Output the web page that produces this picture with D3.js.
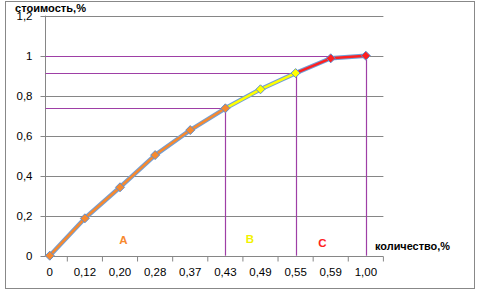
<!DOCTYPE html>
<html><head><meta charset="utf-8">
<script src="https://cdn.jsdelivr.net/npm/d3@7"></script>
<style>body{margin:0;background:#fff}svg{display:block}text{font-family:"Liberation Sans",Arial,sans-serif}</style>
</head><body><svg id="c" width="479" height="294"></svg>
<script>
const categories = ["0","0,12","0,20","0,28","0,37","0,43","0,49","0,55","0,59","1,00"];
const values = [0, 0.187, 0.342, 0.503, 0.628, 0.737, 0.832, 0.913, 0.987, 1.0];
const yTicks = [0, 0.2, 0.4, 0.6, 0.8, 1.0, 1.2];
const yTickLabels = ["0","0,2","0,4","0,6","0,8","1","1,2"];
const segA = [0,1,2,3,4,5];
const segB = [5,6,7];
const segC = [7,8,9];
const guideIdx = [5,7,9];
const zoneLabels = ["A","B","C"];
const zoneColors = ["#f7892f","#ffff00","#ff2020"];

const svg = d3.select("#c");
svg.append("rect").attr("x",5.5).attr("y",1.5).attr("width",469).attr("height",287)
  .attr("fill","#fff").attr("stroke","#888").attr("stroke-width",1);

const x = d3.scaleBand().domain(categories).range([32.2, 383.4]).padding(0);
const cx = c => x(c) + x.bandwidth()/2;
const y = d3.scaleLinear().domain([0,1.2]).range([255.7, 15.7]);
const axX = 45.5, axR = 383.4;

// gridlines
svg.append("g").selectAll("line").data(yTicks.slice(1)).join("line")
  .attr("x1",axX).attr("x2",axR).attr("y1",d=>Math.round(y(d))+0.5).attr("y2",d=>Math.round(y(d))+0.5)
  .attr("stroke","#868686").attr("stroke-width",1);

// y axis
svg.append("line").attr("x1",axX).attr("x2",axX).attr("y1",y(1.2)).attr("y2",y(0)).attr("stroke","#868686");
svg.append("g").selectAll("line").data(yTicks).join("line")
  .attr("x1",axX-5).attr("x2",axX).attr("y1",d=>Math.round(y(d))+0.5).attr("y2",d=>Math.round(y(d))+0.5)
  .attr("stroke","#868686");
svg.append("g").selectAll("text").data(yTicks).join("text")
  .attr("x",32.5).attr("y",d=>y(d)).attr("dy","0.36em").attr("text-anchor","end")
  .attr("font-size",11.5).attr("fill","#000").text((d,i)=>yTickLabels[i]);

// purple guides
const purple = "#9e3fa6";
guideIdx.forEach(i=>{
  const px = Math.round(cx(categories[i]))+0.5, py = Math.round(y(values[i]))+0.5;
  svg.append("line").attr("x1",axX).attr("x2",px).attr("y1",py).attr("y2",py).attr("stroke",purple).attr("stroke-width",1.2);
  svg.append("line").attr("x1",px).attr("x2",px).attr("y1",py).attr("y2",y(0)).attr("stroke",purple).attr("stroke-width",1.2);
});

// x axis
const xAxisY = Math.round(y(0))+0.5;
svg.append("line").attr("x1",axX).attr("x2",axR).attr("y1",xAxisY).attr("y2",xAxisY).attr("stroke","#868686");
svg.append("g").selectAll("line").data(categories).join("line")
  .attr("x1",d=>x(d)+x.bandwidth()).attr("x2",d=>x(d)+x.bandwidth())
  .attr("y1",xAxisY).attr("y2",xAxisY+5).attr("stroke","#868686");
svg.append("g").selectAll("text").data(categories).join("text")
  .attr("x",d=>cx(d)).attr("y",272).attr("dy","0.36em").attr("text-anchor","middle")
  .attr("font-size",11.5).attr("fill","#000").text(d=>d);

// lines
const line = d3.line().x(i=>cx(categories[i])).y(i=>y(values[i]));
const segs = [segA,segB,segC];
segs.forEach((s,k)=>{
  svg.append("path").attr("d",line(s)).attr("fill","none").attr("stroke","#6f9fd8").attr("stroke-width",4.5).attr("stroke-linejoin","round");
});
segs.forEach((s,k)=>{
  svg.append("path").attr("d",line(s)).attr("fill","none").attr("stroke",zoneColors[k]).attr("stroke-width",2.5).attr("stroke-linejoin","round");
});
// markers (square diamonds)
const markerColor = i => i<=5 ? zoneColors[0] : (i<=7 ? zoneColors[1] : zoneColors[2]);
svg.append("g").selectAll("path").data(d3.range(values.length)).join("path")
  .attr("d","M0,-4.5L4.5,0L0,4.5L-4.5,0Z").attr("transform",i=>`translate(${cx(categories[i])},${y(values[i])})`)
  .attr("fill",markerColor).attr("stroke","#5d8fd0").attr("stroke-width",1);

// zone labels
const zonePos = [[123.5,240],[250,239],[322.5,242.5]];
zoneLabels.forEach((t,k)=>{
  svg.append("text").attr("x",zonePos[k][0]).attr("y",zonePos[k][1]).attr("dy","0.36em").attr("text-anchor","middle")
    .attr("font-size",11.5).attr("font-weight","bold").attr("fill",zoneColors[k]==="#ffff00"?"#f2f200":zoneColors[k]).text(t);
});

// axis titles
svg.append("text").attr("x",15).attr("y",12).attr("font-size",11).attr("font-weight","bold")
  .attr("textLength",71).attr("lengthAdjust","spacingAndGlyphs").text("стоимость,%");
svg.append("text").attr("x",375).attr("y",249.5).attr("font-size",11).attr("font-weight","bold")
  .attr("textLength",75).attr("lengthAdjust","spacingAndGlyphs").text("количество,%");
</script></body></html>
